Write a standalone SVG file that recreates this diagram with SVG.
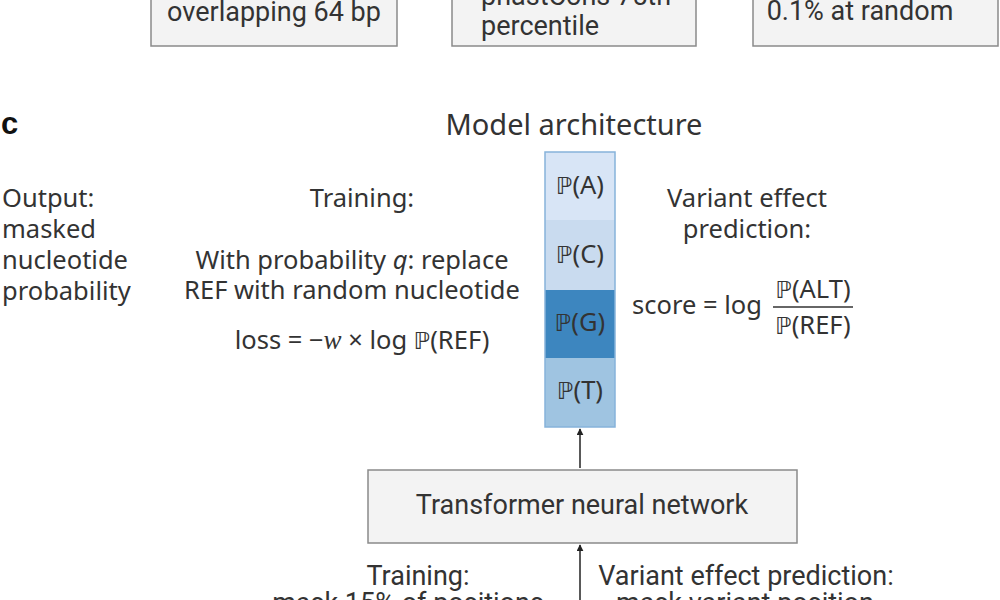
<svg xmlns="http://www.w3.org/2000/svg" width="1000" height="600" viewBox="0 0 1000 600">
<style>
.box{fill:#f3f3f3;stroke:#8a8a8a;stroke-width:1.5}
.bt{font-family:Roboto,"Liberation Sans",sans-serif;font-size:27px;fill:#333}
.t{font-family:"Noto Sans","DejaVu Sans",sans-serif;font-size:25.5px;fill:#333}
.bb{font-family:"DejaVu Sans","Noto Sans",sans-serif;font-size:0.92em}
.conn{stroke:#222;stroke-width:1.5;fill:none}
</style>
<defs>
<marker id="ah" viewBox="0 0 10 10" refX="9" refY="5" markerWidth="7" markerHeight="7" orient="auto" markerUnits="userSpaceOnUse">
<path d="M0,0 L10,5 L0,10 z" fill="#222"/>
</marker>
</defs>
<rect width="1000" height="600" fill="#ffffff"/>
<g id="box1">
<rect class="box" x="151" y="-10" width="246" height="56"/>
<text class="bt" x="274" y="21" text-anchor="middle">overlapping 64 bp</text>
</g>
<g id="box2">
<rect class="box" x="452" y="-10" width="244" height="56"/>
<text class="bt" x="481" y="5">phastCons 75th</text>
<text class="bt" x="481" y="35">percentile</text>
</g>
<g id="box3">
<rect class="box" x="753" y="-10" width="245" height="56"/>
<text class="bt" x="860" y="20" text-anchor="middle">0.1% at random</text>
</g>
<g id="label-c">
<text x="1" y="134" font-family="'Liberation Sans',sans-serif" font-weight="bold" font-size="31" fill="#111">c</text>
</g>
<g id="title">
<text class="t" x="574" y="135" text-anchor="middle" style="font-size:29px">Model architecture</text>
</g>
<g id="output-label">
<text class="t" x="2" y="207">Output:</text>
<text class="t" x="2" y="238">masked</text>
<text class="t" x="2" y="269">nucleotide</text>
<text class="t" x="2" y="300">probability</text>
</g>
<g id="training-top">
<text class="t" x="362" y="207" text-anchor="middle">Training:</text>
<text class="t" x="352" y="269" text-anchor="middle">With probability <tspan font-style="italic">q</tspan>: replace</text>
<text class="t" x="352" y="299" text-anchor="middle">REF with random nucleotide</text>
<text class="t" x="362" y="349" text-anchor="middle">loss = −<tspan font-family="'Liberation Serif',serif" font-style="italic" font-size="27">w</tspan> × log <tspan class="bb">ℙ</tspan>(REF)</text>
</g>
<g id="prob-column">
<rect x="545" y="152" width="70" height="68" fill="#d8e5f6"/>
<rect x="545" y="220" width="70" height="70" fill="#c9dbef"/>
<rect x="545" y="290" width="70" height="68" fill="#3d86bf"/>
<rect x="545" y="358" width="70" height="69" fill="#9fc4e1"/>
<rect x="545" y="152" width="70" height="275" fill="none" stroke="#86b3da" stroke-width="1.5"/>
<text class="t" x="580" y="194" text-anchor="middle"><tspan class="bb">ℙ</tspan>(A)</text>
<text class="t" x="580" y="263" text-anchor="middle"><tspan class="bb">ℙ</tspan>(C)</text>
<text class="t" x="580" y="331" text-anchor="middle"><tspan class="bb">ℙ</tspan>(G)</text>
<text class="t" x="580" y="399" text-anchor="middle"><tspan class="bb">ℙ</tspan>(T)</text>
</g>
<g id="vep-top">
<text class="t" x="747" y="207" text-anchor="middle">Variant effect</text>
<text class="t" x="747" y="238" text-anchor="middle">prediction:</text>
<text class="t" x="632" y="314">score = log</text>
<text class="t" x="813" y="298" text-anchor="middle"><tspan class="bb">ℙ</tspan>(ALT)</text>
<line x1="773" y1="307" x2="853" y2="307" stroke="#333" stroke-width="1.5"/>
<text class="t" x="813" y="334" text-anchor="middle"><tspan class="bb">ℙ</tspan>(REF)</text>
</g>
<g id="transformer">
<rect class="box" x="368" y="470" width="429" height="73"/>
<text class="bt" x="582" y="514" text-anchor="middle">Transformer neural network</text>
</g>
<g id="connectors">
<line class="conn" x1="580" y1="468" x2="580" y2="429" marker-end="url(#ah)"/>
<line class="conn" x1="580" y1="605" x2="580" y2="545" marker-end="url(#ah)"/>
</g>
<g id="training-bottom">
<text class="bt" x="418" y="585" text-anchor="middle">Training:</text>
<text class="bt" x="408" y="612" text-anchor="middle">mask 15% of positions</text>
</g>
<g id="vep-bottom">
<text class="bt" x="746" y="585" text-anchor="middle">Variant effect prediction:</text>
<text class="bt" x="745" y="612" text-anchor="middle">mask variant position</text>
</g>
</svg>
